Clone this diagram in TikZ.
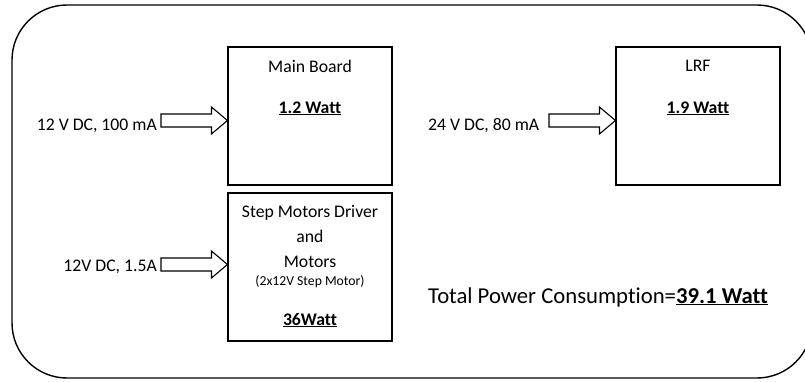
\documentclass[tikz,border=0pt]{standalone}
\usepackage{fontspec}
\setmainfont[Ligatures={NoCommon}]{Carlito}
\usetikzlibrary{calc}

% блочная стрелка: хвост #1, остриё #2
\newcommand{\blockarrow}[2]{%
  \draw[pwr] let \p1=(#1), \p2=(#2) in
    (\x1,\y1-6.5pt) -- (\x2-16pt,\y1-6.5pt) -- (\x2-16pt,\y1-13.5pt) -- (\x2,\y1)
    -- (\x2-16pt,\y1+13.5pt) -- (\x2-16pt,\y1+6.5pt) -- (\x1,\y1+6.5pt) -- cycle;}

\begin{document}
\begin{tikzpicture}[x=1pt, y=-1pt,
    unit/.style={draw, line width=1.1pt, minimum width=164pt, minimum height=138pt, inner sep=0pt},
    txt/.style={anchor=base, inner sep=0pt, font=\fontsize{17.7}{21}\selectfont},
    note/.style={anchor=base, inner sep=0pt, font=\fontsize{13.7}{16}\selectfont},
    pwr/.style={draw, line width=1.1pt, fill=white, line join=miter}]
    \useasboundingbox (0,0) rectangle (805,381);

    % Рамка
    \draw[line width=1.4pt, rounded corners=55pt] (12,5) rectangle (812,378);

    % Блоки
    \node[unit] (mb) at (310,116) {};
    \node[unit, minimum height=148pt] (sm) at (310,267) {};
    \node[unit] (lrf) at (698,116) {};

    \node[txt] (mbt) at (310,72) {Main Board};
    \node[txt] (mbw) at (310,113) {\underline{\textbf{1.2 Watt}}};
    \node[txt] (lrft) at (698,71) {LRF};
    \node[txt] (lrfw) at (698,113) {\underline{\textbf{1.9 Watt}}};
    \node[txt] (smt1) at (310,217) {Step Motors Driver};
    \node[txt] (smt2) at (310,242) {and};
    \node[txt] (smt3) at (310,267) {Motors};
    \node[note] (smt4) at (310,285) {(2x12V Step Motor)};
    \node[txt] (smw) at (310,325) {\underline{\textbf{36Watt}}};

    % Питание
    \node[txt, anchor=base east] (v1) at (157,130) {12 V DC, 100 mA};
    \node[txt, anchor=base west] (v2) at (428,130) {24 V DC, 80 mA};
    \node[txt, anchor=base east] (v3) at (157,271) {12V DC, 1.5A};

    \coordinate (in1) at (161,120.5);
    \coordinate (in2) at (549,120.5);
    \coordinate (in3) at (161,264.5);
    \blockarrow{in1}{mb.west |- in1}
    \blockarrow{in2}{lrf.west |- in2}
    \blockarrow{in3}{sm.west |- in3}

    % Итог
    \node[anchor=base west, inner sep=0pt, font=\fontsize{22.7}{26}\selectfont] (total) at (428,303)
        {Total Power Consumption=\underline{\textbf{39.1 Watt}}};
\end{tikzpicture}
\end{document}
